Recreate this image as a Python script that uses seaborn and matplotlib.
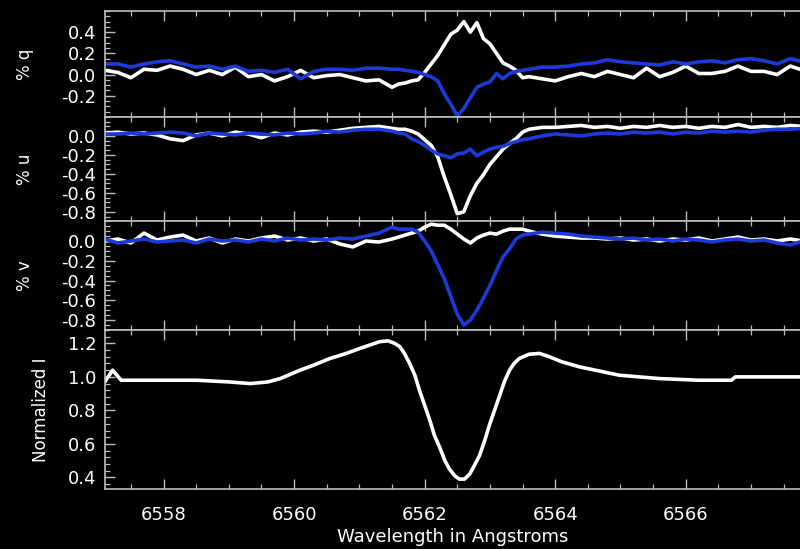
import matplotlib
matplotlib.use("Agg")
import seaborn as sns
import matplotlib.pyplot as plt
from matplotlib.ticker import MultipleLocator, AutoMinorLocator

# %%
# Data (wavelength in Angstroms)

wl_pol = [6557.1, 6557.3, 6557.5, 6557.7, 6557.9, 6558.1, 6558.3, 6558.5, 6558.7, 6558.9,
          6559.1, 6559.3, 6559.5, 6559.7, 6559.9, 6560.1, 6560.3, 6560.5, 6560.7, 6560.9,
          6561.1, 6561.3, 6561.5,
          6561.6, 6561.7, 6561.8, 6561.9, 6562.0, 6562.1, 6562.2, 6562.3, 6562.4, 6562.5,
          6562.6, 6562.7, 6562.8, 6562.9, 6563.0, 6563.1, 6563.2, 6563.3, 6563.4, 6563.5,
          6563.6,
          6563.8, 6564.0, 6564.2, 6564.4, 6564.6, 6564.8, 6565.0, 6565.2, 6565.4, 6565.6,
          6565.8, 6566.0, 6566.2, 6566.4, 6566.6, 6566.8, 6567.0, 6567.2, 6567.4, 6567.6,
          6567.8]

q_white = [0.04, 0.02, -0.03, 0.05, 0.04, 0.08, 0.05, 0.00, 0.04, 0.00,
           0.07, -0.02, 0.00, -0.06, -0.02, 0.04, -0.03, -0.01, 0.00, -0.03,
           -0.06, -0.05, -0.12,
           -0.09, -0.08, -0.06, -0.05, 0.02, 0.10, 0.18, 0.28, 0.38, 0.42,
           0.50, 0.40, 0.49, 0.34, 0.29, 0.20, 0.11, 0.08, 0.04, -0.03,
           -0.02,
           -0.04, -0.06, -0.02, 0.01, -0.02, 0.03, 0.00, -0.03, 0.06, -0.02,
           0.02, 0.08, 0.01, 0.01, 0.03, 0.08, 0.03, 0.03, 0.00, 0.08,
           0.04]
q_blue = [0.10, 0.10, 0.07, 0.10, 0.12, 0.13, 0.10, 0.07, 0.08, 0.05,
          0.08, 0.03, 0.04, 0.02, 0.05, -0.04, 0.03, 0.05, 0.05, 0.04,
          0.06, 0.06, 0.05,
          0.05, 0.04, 0.03, 0.02, 0.00, -0.02, -0.06, -0.18, -0.28, -0.39,
          -0.32, -0.22, -0.12, -0.09, -0.07, 0.01, -0.04, 0.01, 0.03, 0.04,
          0.05,
          0.07, 0.07, 0.08, 0.10, 0.11, 0.14, 0.12, 0.11, 0.10, 0.09,
          0.12, 0.10, 0.12, 0.13, 0.11, 0.14, 0.15, 0.13, 0.10, 0.15,
          0.12]

u_white = [0.03, 0.04, 0.02, 0.03, 0.01, -0.03, -0.05, 0.01, 0.03, 0.00,
           0.04, 0.02, -0.02, 0.03, 0.01, 0.04, 0.05, 0.04, 0.06, 0.08,
           0.09, 0.10, 0.08,
           0.07, 0.07, 0.05, 0.02, -0.04, -0.10, -0.22, -0.43, -0.62, -0.82,
           -0.80, -0.63, -0.50, -0.41, -0.30, -0.22, -0.14, -0.08, -0.03, 0.04,
           0.07,
           0.09, 0.09, 0.10, 0.11, 0.09, 0.10, 0.08, 0.10, 0.09, 0.11,
           0.09, 0.10, 0.08, 0.10, 0.09, 0.12, 0.09, 0.10, 0.09, 0.11,
           0.10]
u_blue = [0.02, 0.02, 0.03, 0.02, 0.03, 0.04, 0.03, 0.00, 0.03, 0.02,
          0.01, 0.03, 0.02, 0.01, 0.03, 0.02, 0.03, 0.05, 0.04, 0.06,
          0.07, 0.07, 0.05,
          0.03, 0.02, -0.03, -0.06, -0.10, -0.15, -0.19, -0.21, -0.23, -0.19,
          -0.18, -0.14, -0.21, -0.17, -0.14, -0.12, -0.11, -0.08, -0.06, -0.04,
          -0.03,
          0.00, 0.02, 0.01, 0.00, 0.02, 0.03, 0.02, 0.04, 0.03, 0.04,
          0.02, 0.04, 0.03, 0.05, 0.04, 0.05, 0.04, 0.06, 0.07, 0.07,
          0.08]

v_white = [0.00, 0.02, -0.02, 0.08, 0.01, 0.04, 0.06, 0.00, 0.03, -0.02,
           0.02, 0.00, 0.03, 0.05, 0.01, 0.03, 0.00, 0.02, -0.03, -0.06,
           0.00, -0.01, 0.02,
           0.04, 0.06, 0.08, 0.10, 0.14, 0.17, 0.16, 0.16, 0.12, 0.07,
           0.02, -0.02, 0.03, 0.06, 0.08, 0.07, 0.10, 0.12, 0.12, 0.12,
           0.10,
           0.07, 0.05, 0.04, 0.03, 0.03, 0.02, 0.03, 0.01, 0.02, 0.00,
           0.02, 0.01, 0.03, 0.00, 0.02, 0.04, 0.01, 0.02, 0.00, 0.02,
           0.00]
v_blue = [0.02, -0.02, 0.00, 0.02, -0.01, 0.00, 0.01, -0.02, 0.02, 0.00,
          0.01, -0.01, 0.02, 0.00, 0.03, 0.01, 0.02, 0.01, 0.03, 0.02,
          0.05, 0.08, 0.14,
          0.12, 0.12, 0.12, 0.09, 0.00, -0.10, -0.24, -0.38, -0.56, -0.74,
          -0.85, -0.80, -0.70, -0.58, -0.45, -0.30, -0.16, -0.08, 0.02, 0.06,
          0.07,
          0.09, 0.08, 0.07, 0.05, 0.04, 0.03, 0.02, 0.03, 0.01, 0.02,
          0.00, 0.02, 0.01, -0.01, 0.01, 0.02, 0.00, 0.01, -0.02, -0.04,
          0.00]

wl_int = [6557.10, 6557.22, 6557.35, 6557.5, 6558.0, 6558.5, 6559.0, 6559.33, 6559.6,
          6559.79, 6560.09, 6560.3, 6560.55, 6560.8, 6561.01, 6561.16, 6561.31, 6561.44,
          6561.54, 6561.62, 6561.69, 6561.77, 6561.85, 6561.92, 6562.00, 6562.08, 6562.15,
          6562.23, 6562.31, 6562.38, 6562.46, 6562.53, 6562.61, 6562.69, 6562.76, 6562.84,
          6562.92, 6562.99, 6563.07, 6563.15, 6563.22, 6563.30, 6563.37, 6563.45, 6563.60,
          6563.76, 6563.91, 6564.10, 6564.37, 6564.98, 6565.59, 6566.20, 6566.70, 6566.76,
          6567.2, 6567.8]
intensity = [0.97, 1.04, 0.98, 0.98, 0.98, 0.98, 0.97, 0.96, 0.97,
             0.99, 1.04, 1.07, 1.11, 1.14, 1.17, 1.19, 1.21, 1.215,
             1.20, 1.18, 1.14, 1.08, 1.01, 0.92, 0.83, 0.74, 0.65,
             0.58, 0.50, 0.45, 0.41, 0.39, 0.39, 0.42, 0.47, 0.53,
             0.62, 0.71, 0.80, 0.89, 0.97, 1.04, 1.08, 1.11, 1.135,
             1.14, 1.12, 1.09, 1.06, 1.01, 0.99, 0.98, 0.98, 1.00,
             1.00, 1.00]

# %%
# Style

sns.set_style("ticks")
plt.rcParams.update({
    "figure.facecolor": "black",
    "axes.facecolor": "black",
    "axes.edgecolor": "#bdbdbd",
    "axes.linewidth": 1.2,
    "text.color": "white",
    "axes.labelcolor": "white",
    "xtick.color": "#bdbdbd",
    "ytick.color": "#bdbdbd",
    "xtick.labelcolor": "white",
    "ytick.labelcolor": "white",
    "font.family": ["DejaVu Sans"],
})

white = "#ffffff"
blue = "#1c3ad8"
lw = 2.6

fig = plt.figure(figsize=(8, 5.49), dpi=100)
left, width = 0.131, 0.869
ax_q = fig.add_axes([left, 0.787, width, 0.193])
ax_u = fig.add_axes([left, 0.597, width, 0.190], sharex=ax_q)
ax_v = fig.add_axes([left, 0.399, width, 0.198], sharex=ax_q)
ax_i = fig.add_axes([left, 0.109, width, 0.290], sharex=ax_q)

sns.lineplot(x=wl_pol, y=q_white, ax=ax_q, color=white, linewidth=lw)
sns.lineplot(x=wl_pol, y=q_blue, ax=ax_q, color=blue, linewidth=lw)
sns.lineplot(x=wl_pol, y=u_white, ax=ax_u, color=white, linewidth=lw)
sns.lineplot(x=wl_pol, y=u_blue, ax=ax_u, color=blue, linewidth=lw)
sns.lineplot(x=wl_pol, y=v_white, ax=ax_v, color=white, linewidth=lw)
sns.lineplot(x=wl_pol, y=v_blue, ax=ax_v, color=blue, linewidth=lw)
sns.lineplot(x=wl_int, y=intensity, ax=ax_i, color=white, linewidth=lw)

ax_q.set_ylim(-0.4, 0.6)
ax_u.set_ylim(-0.9, 0.2)
ax_v.set_ylim(-0.9, 0.2)
ax_i.set_ylim(0.33, 1.28)
ax_q.set_xlim(6557.1, 6567.75)

ax_q.set_yticks([-0.2, 0.0, 0.2, 0.4])
ax_u.set_yticks([-0.8, -0.6, -0.4, -0.2, 0.0])
ax_v.set_yticks([-0.8, -0.6, -0.4, -0.2, 0.0])
ax_i.set_yticks([0.4, 0.6, 0.8, 1.0, 1.2])

labels = ["% q", "% u", "% v", "Normalized I"]
for ax, lab in zip([ax_q, ax_u, ax_v, ax_i], labels):
    ax.spines["right"].set_visible(False)
    ax.xaxis.set_major_locator(MultipleLocator(2))
    ax.xaxis.set_minor_locator(MultipleLocator(0.5))
    ax.yaxis.set_major_formatter(matplotlib.ticker.FormatStrFormatter("%.1f"))
    if ax is ax_i:
        ax.yaxis.set_minor_locator(AutoMinorLocator(5))
    else:
        ax.yaxis.set_minor_locator(MultipleLocator(0.05))
    ax.tick_params(which="both", direction="in", top=True, bottom=True, left=True, right=False)
    ax.tick_params(which="major", length=7, width=1.0, labelsize=13, pad=6)
    ax.tick_params(which="minor", length=3.5, width=0.9)
    ax.tick_params(axis="x", pad=12)
    ax.set_ylabel(lab, fontsize=12)
    ax.set_xlabel("")
    if ax is not ax_i:
        ax.tick_params(axis="x", labelbottom=False)

for ax in [ax_q, ax_u, ax_v]:
    ax.yaxis.set_label_coords(-0.102, 0.5)
ax_i.yaxis.set_label_coords(-0.079, 0.5)

ax_i.set_xlabel("Wavelength in Angstroms", fontsize=13, labelpad=3)

fig.savefig("out.png", dpi=100, facecolor="black")
